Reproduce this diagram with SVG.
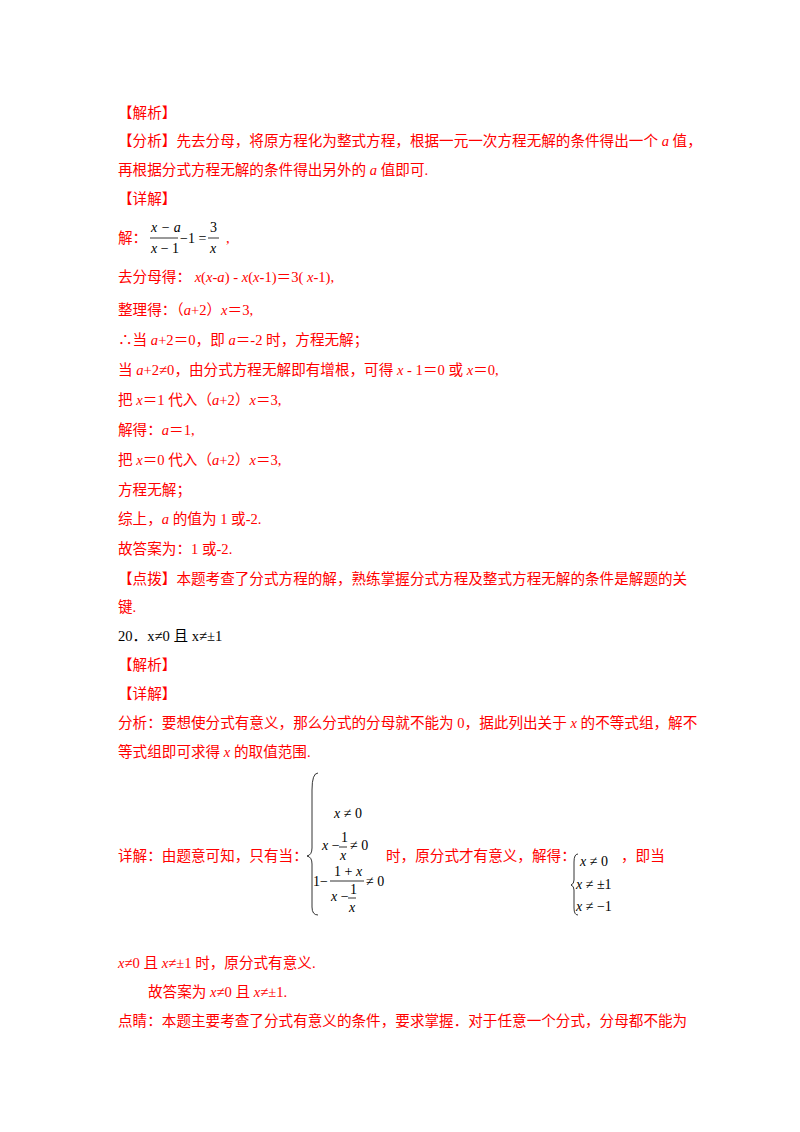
<svg xmlns="http://www.w3.org/2000/svg" width="800" height="1132" viewBox="0 0 800 1132">
<style>
text{font-family:"Liberation Serif","Noto Sans CJK SC",serif;font-size:14.6px}
.r{fill:#f00}
.k{fill:#000}
.i{font-style:italic}
.m{font-family:"Liberation Serif",serif;font-size:14px}
line{stroke:#000;stroke-width:0.8}
path{fill:none;stroke:#000;stroke-width:0.8}
</style>
<rect width="800" height="1132" fill="#fff"/>
<g class="r">
<text x="118" y="118">【解析】</text>
<text x="118" y="146">【分析】先去分母，将原方程化为整式方程，根据一元一次方程无解的条件得出一个 <tspan class="i">a</tspan> 值，</text>
<text x="118" y="175">再根据分式方程无解的条件得出另外的 <tspan class="i">a</tspan> 值即可.</text>
<text x="118" y="204">【详解】</text>
<text x="118" y="243">解：</text>
<text x="226" y="243">,</text>
<text x="118" y="282">去分母得： <tspan class="i">x</tspan>(<tspan class="i">x</tspan>-<tspan class="i">a</tspan>) - <tspan class="i">x</tspan>(<tspan class="i">x</tspan>-1)＝3( <tspan class="i">x</tspan>-1),</text>
<text x="118" y="315">整理得：（<tspan class="i">a</tspan>+2）<tspan class="i">x</tspan>＝3,</text>
<text x="118" y="345">∴当 <tspan class="i">a</tspan>+2＝0，即 <tspan class="i">a</tspan>＝-2 时，方程无解；</text>
<text x="118" y="375">当 <tspan class="i">a</tspan>+2≠0，由分式方程无解即有增根，可得 <tspan class="i">x</tspan> - 1＝0 或 <tspan class="i">x</tspan>＝0,</text>
<text x="118" y="405">把 <tspan class="i">x</tspan>＝1 代入（<tspan class="i">a</tspan>+2）<tspan class="i">x</tspan>＝3,</text>
<text x="118" y="435">解得：<tspan class="i">a</tspan>＝1,</text>
<text x="118" y="465">把 <tspan class="i">x</tspan>＝0 代入（<tspan class="i">a</tspan>+2）<tspan class="i">x</tspan>＝3,</text>
<text x="118" y="495">方程无解；</text>
<text x="118" y="524">综上，<tspan class="i">a</tspan> 的值为 1 或-2.</text>
<text x="118" y="554">故答案为：1 或-2.</text>
<text x="118" y="584">【点拨】本题考查了分式方程的解，熟练掌握分式方程及整式方程无解的条件是解题的关</text>
<text x="118" y="612">键.</text>
<text x="118" y="641" class="k">20．x≠0 且 x≠±1</text>
<text x="118" y="670">【解析】</text>
<text x="118" y="699">【详解】</text>
<text x="118" y="728">分析：要想使分式有意义，那么分式的分母就不能为 0，据此列出关于 <tspan class="i">x</tspan> 的不等式组，解不</text>
<text x="118" y="757">等式组即可求得 <tspan class="i">x</tspan> 的取值范围.</text>
<text x="118" y="861">详解：由题意可知，只有当：</text>
<text x="386" y="861">时，原分式才有意义，解得：</text>
<text x="621" y="861">，即当</text>
<text x="118" y="968"><tspan class="i">x</tspan>≠0 且 <tspan class="i">x</tspan>≠±1 时，原分式有意义.</text>
<text x="148" y="997">故答案为 <tspan class="i">x</tspan>≠0 且 <tspan class="i">x</tspan>≠±1.</text>
<text x="118" y="1026">点睛：本题主要考查了分式有意义的条件，要求掌握．对于任意一个分式，分母都不能为</text>
</g>
<g id="eq1" class="k">
<text x="151" y="232" class="m i">x − a</text>
<line x1="150" y1="238" x2="178" y2="238"/>
<text x="151" y="253" class="m"><tspan class="i">x</tspan> − 1</text>
<text x="180" y="243" class="m">−1 =</text>
<text x="210" y="232" class="m">3</text>
<line x1="208" y1="238" x2="219" y2="238"/>
<text x="210" y="253" class="m i">x</text>
</g>
<g id="sys1" class="k">
<path d="M318,773 Q312,773 312,790 L312,848 Q312,855 307,856 Q312,857 312,864 L312,907 Q312,915 318,915"/>
<text x="334" y="818" class="m"><tspan class="i">x</tspan> ≠ 0</text>
<text x="322" y="850" class="m"><tspan class="i">x</tspan> −</text>
<text x="341" y="842" class="m" font-size="12">1</text>
<line x1="339" y1="847" x2="347" y2="847"/>
<text x="340" y="860" class="m i" font-size="12">x</text>
<text x="350" y="850" class="m">≠ 0</text>
<text x="313" y="886" class="m">1−</text>
<text x="334" y="876" class="m">1 + <tspan class="i">x</tspan></text>
<line x1="330" y1="881" x2="364" y2="881"/>
<text x="331" y="901" class="m"><tspan class="i">x</tspan> −</text>
<text x="350" y="894" class="m" font-size="12">1</text>
<line x1="348" y1="898" x2="356" y2="898"/>
<text x="349" y="912" class="m i" font-size="12">x</text>
<text x="366" y="886" class="m">≠ 0</text>
</g>
<g id="sys2" class="k">
<path d="M578,854 Q574,854 574,862 L574,880 Q574,884 571,885 Q574,886 574,890 L574,908 Q574,915 578,915"/>
<text x="580" y="866" class="m"><tspan class="i">x</tspan> ≠ 0</text>
<text x="576" y="889" class="m"><tspan class="i">x</tspan> ≠ ±1</text>
<text x="576" y="911" class="m"><tspan class="i">x</tspan> ≠ −1</text>
</g>
</svg>
